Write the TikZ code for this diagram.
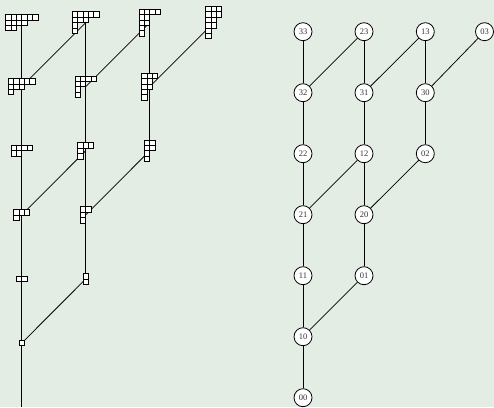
\documentclass[tikz,border=0pt]{standalone}
\usepackage{fontspec}
\setmainfont{Liberation Serif}
\definecolor{bgc}{RGB}{227,237,228}
\newcommand{\bx}{5.4}
\newcommand{\ydiag}[4]{%
  \begin{scope}[shift={(#1)}]
    \foreach \len [count=\ii] in {#4} {
      \foreach \jj in {1,...,\len} {
        \draw[ybox] ({-#2*\bx/2+(\jj-1)*\bx},{#3*\bx/2-(\ii-1)*\bx}) rectangle ++(\bx,-\bx);
      }
    }
  \end{scope}}
\begin{document}
\begin{tikzpicture}[x=1pt,y=1pt,
  edge/.style={line width=0.75pt, black},
  ybox/.style={draw=black, fill=white, line width=0.7pt},
  lab/.style={circle, draw=black, fill=white, line width=0.8pt, minimum size=18pt, inner sep=0pt, font=\fontsize{8.5}{9}\selectfont, text=black!80}]
\fill[bgc] (0,0) rectangle (494,407);
\useasboundingbox (0,0) rectangle (494,407);

% left tree positions
\coordinate (L00) at (21.7,-0.2);
\coordinate (L01) at (21.7,63.9);
\coordinate (L02) at (21.7,128.0);
\coordinate (L12) at (85.7,128.0);
\coordinate (L03) at (21.7,192.1);
\coordinate (L13) at (85.7,192.1);
\coordinate (L04) at (21.7,256.2);
\coordinate (L14) at (85.7,256.2);
\coordinate (L24) at (149.7,256.2);
\coordinate (L05) at (21.7,320.3);
\coordinate (L15) at (85.7,320.3);
\coordinate (L25) at (149.7,320.3);
\coordinate (L06) at (21.7,384.4);
\coordinate (L16) at (85.7,384.4);
\coordinate (L26) at (149.7,384.4);
\coordinate (L36) at (213.7,384.4);

\draw[edge] (L00) -- (L01) -- (L02) -- (L03) -- (L04) -- (L05) -- (L06);
\draw[edge] (L12) -- (L13) -- (L14) -- (L15) -- (L16);
\draw[edge] (L24) -- (L25) -- (L26);
\draw[edge] (L01) -- (L12);
\draw[edge] (L03) -- (L14);
\draw[edge] (L13) -- (L24);
\draw[edge] (L05) -- (L16);
\draw[edge] (L15) -- (L26);
\draw[edge] (L25) -- (L36);

\ydiag{L01}{1}{1}{1}
\ydiag{L02}{2}{1}{2}
\ydiag{L12}{1}{2}{1,1}
\ydiag{L03}{3}{2}{3,1}
\ydiag{L13}{2}{3}{2,1,1}
\ydiag{L04}{4}{2}{4,2}
\ydiag{L14}{3}{3}{3,1,1}
\ydiag{L24}{2}{4}{2,2,1,1}
\ydiag{L05}{5}{3}{5,3,1}
\ydiag{L15}{4}{4}{4,2,1,1}
\ydiag{L25}{3}{5}{3,2,2,1,1}
\ydiag{L06}{6}{3}{6,4,2}
\ydiag{L16}{5}{4}{5,3,1,1}
\ydiag{L26}{4}{5}{4,2,2,1,1}
\ydiag{L36}{3}{6}{3,3,2,2,1,1}

% right tree
\node[lab] (R00) at (303,9.3) {00};
\node[lab] (R01) at (303,70.3) {10};
\node[lab] (R02) at (303,131.3) {11};
\node[lab] (R12) at (364,131.3) {01};
\node[lab] (R03) at (303,192.3) {21};
\node[lab] (R13) at (364,192.3) {20};
\node[lab] (R04) at (303,253.3) {22};
\node[lab] (R14) at (364,253.3) {12};
\node[lab] (R24) at (425.3,253.3) {02};
\node[lab] (R05) at (303,314.3) {32};
\node[lab] (R15) at (364,314.3) {31};
\node[lab] (R25) at (425.3,314.3) {30};
\node[lab] (R06) at (303,375.3) {33};
\node[lab] (R16) at (364,375.3) {23};
\node[lab] (R26) at (425.3,375.3) {13};
\node[lab] (R36) at (484.5,375.3) {03};

\draw[edge] (R00) -- (R01) -- (R02) -- (R03) -- (R04) -- (R05) -- (R06);
\draw[edge] (R12) -- (R13) -- (R14) -- (R15) -- (R16);
\draw[edge] (R24) -- (R25) -- (R26);
\draw[edge] (R01) -- (R12);
\draw[edge] (R03) -- (R14);
\draw[edge] (R13) -- (R24);
\draw[edge] (R05) -- (R16);
\draw[edge] (R15) -- (R26);
\draw[edge] (R25) -- (R36);
\end{tikzpicture}
\end{document}
